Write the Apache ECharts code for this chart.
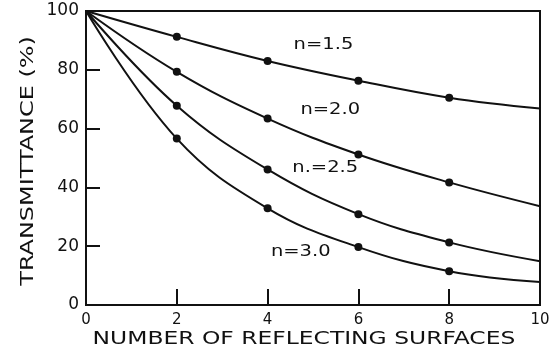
<!DOCTYPE html>
<html>
<head>
<meta charset="utf-8">
<script src="https://cdn.jsdelivr.net/npm/echarts@6/dist/echarts.min.js"></script>
<style>
  html, body { margin: 0; padding: 0; background: #fff; }
  #chart { width: 560px; height: 352px; }
</style>
</head>
<body>
<div id="chart"></div>
<script>
// number of reflecting surfaces
var surfaces = [0, 2, 4, 6, 8, 10];

// transmittance (%)
var n15 = [100, 91.2, 83.0, 76.3, 70.5, 66.8];
var n20 = [100, 79.3, 63.4, 51.2, 41.7, 33.6];
var n25 = [100, 67.8, 46.1, 30.9, 21.3, 14.9];
var n30 = [100, 56.6, 32.9, 19.7, 11.5, 7.8];

var curveNames = ['n=1.5', 'n=2.0', 'n.=2.5', 'n=3.0'];
// where the curve labels sit, in data units
var labelX = [5.23, 5.38, 5.27, 4.73];
var labelY = [88.5, 66.4, 46.4, 18.0];

var xTitle = 'NUMBER OF REFLECTING SURFACES';
var yTitle = 'TRANSMITTANCE (%)';

var ink = '#111';
var font = 'DejaVu Sans';

function toPoints(vals) {
    return vals.map(function (v, i) {
        var pt = { value: [surfaces[i], v] };
        // dots only at the measured points, not at the ends
        if (i === 0 || i === vals.length - 1) pt.symbol = 'none';
        return pt;
    });
}

function makeSeries(name, vals) {
    return {
        name: name,
        type: 'line',
        smooth: 0.4,
        data: toPoints(vals),
        symbol: 'circle',
        symbolSize: 8,
        itemStyle: { color: ink },
        lineStyle: { color: ink, width: 2 },
        emphasis: { disabled: true },
        z: 3
    };
}

var myChart = echarts.init(document.getElementById('chart'));

myChart.setOption({
    backgroundColor: '#fff',
    animation: false,
    grid: {
        left: 86,
        right: 20,
        top: 11,
        bottom: 47,
        show: true,
        borderColor: ink,
        borderWidth: 2
    },
    xAxis: {
        type: 'value',
        min: 0,
        max: 10,
        interval: 2,
        axisLine: { lineStyle: { color: ink, width: 2 } },
        axisTick: { inside: true, length: 16, lineStyle: { color: ink, width: 2 } },
        axisLabel: { color: ink, fontFamily: font, fontSize: 15, margin: 8 },
        splitLine: { show: false }
    },
    yAxis: {
        type: 'value',
        min: 0,
        max: 100,
        interval: 20,
        axisLine: { lineStyle: { color: ink, width: 2 } },
        axisTick: { inside: true, length: 14, lineStyle: { color: ink, width: 2 } },
        axisLabel: { color: ink, fontFamily: font, fontSize: 17, margin: 7 },
        splitLine: { show: false }
    },
    series: [
        makeSeries(curveNames[0], n15),
        makeSeries(curveNames[1], n20),
        makeSeries(curveNames[2], n25),
        makeSeries(curveNames[3], n30)
    ]
});

function stretchedText(text, x, y, size, sx, rot) {
    return {
        type: 'text',
        x: x,
        y: y,
        rotation: rot || 0,
        scaleX: sx,
        style: {
            text: text,
            fill: ink,
            font: size + 'px "' + font + '"',
            textAlign: 'center',
            textVerticalAlign: 'middle'
        },
        z: 10
    };
}

// curve labels placed through the chart's own coordinate system
var graphics = curveNames.map(function (name, i) {
    var p = myChart.convertToPixel({ gridIndex: 0 }, [labelX[i], labelY[i]]);
    return stretchedText(name, p[0], p[1], 15, 1.3);
});

// axis titles, lettered wide like the original
var xMid = myChart.convertToPixel({ gridIndex: 0 }, [4.8, 0]);
var yMid = myChart.convertToPixel({ gridIndex: 0 }, [0, 49]);
graphics.push(stretchedText(xTitle, xMid[0], 339, 18, 1.3));
graphics.push(stretchedText(yTitle, 28, yMid[1], 18, 1.33, Math.PI / 2));

myChart.setOption({ graphic: graphics });
</script>
</body>
</html>
